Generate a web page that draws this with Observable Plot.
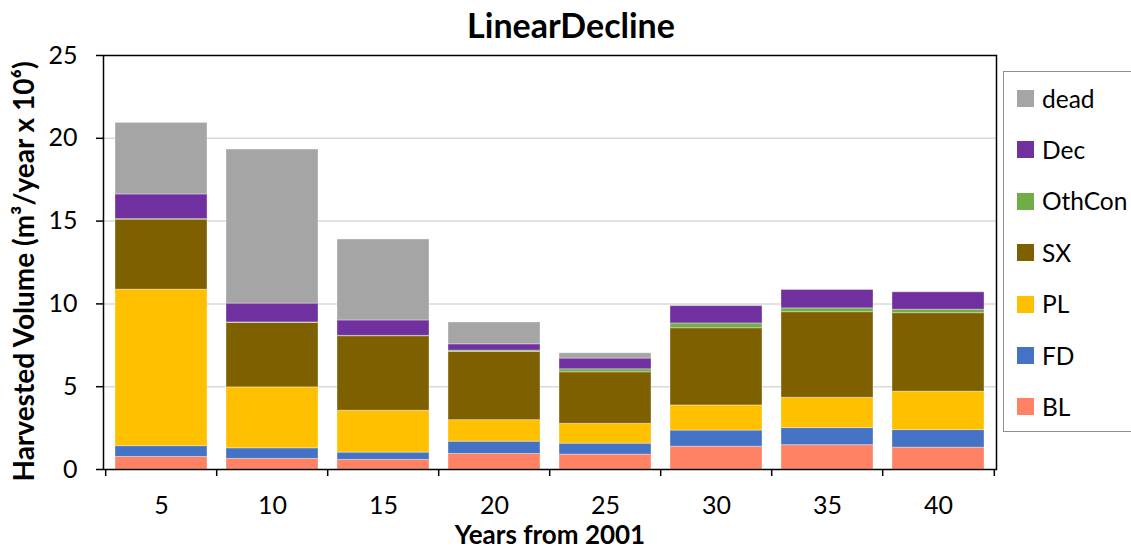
<!DOCTYPE html>
<html><head><meta charset="utf-8">
<script src="https://cdn.jsdelivr.net/npm/d3@7"></script>
<script src="https://cdn.jsdelivr.net/npm/@observablehq/plot@0.6"></script>
<style>
body{margin:0;overflow:hidden;background:#fff;font-family:Lato,sans-serif;}
#wrap{position:relative;width:1131px;height:550px;overflow:hidden;}
#legend{position:absolute;left:1003px;top:71px;width:170px;height:361px;border:1.5px solid #8f8f8f;box-sizing:border-box;background:#fff;}
.item{position:absolute;left:13px;height:30px;line-height:30px;display:flex;align-items:center;font-size:24.5px;color:#000;white-space:nowrap;}
.sw{width:17px;height:17px;margin-right:8px;flex:none;}
</style></head><body><div id="wrap"></div>
<script>
const years = [5, 10, 15, 20, 25, 30, 35, 40];
const BL     = [0.76, 0.64, 0.58, 0.94, 0.90, 1.38, 1.47, 1.32];
const FD     = [0.65, 0.64, 0.44, 0.74, 0.66, 0.97, 1.03, 1.06];
const PL     = [9.45, 3.68, 2.53, 1.30, 1.20, 1.52, 1.83, 2.32];
const SX     = [4.23, 3.89, 4.50, 4.12, 3.11, 4.66, 5.17, 4.74];
const OthCon = [0.03, 0.03, 0.02, 0.08, 0.18, 0.29, 0.23, 0.21];
const Dec    = [1.49, 1.14, 0.93, 0.38, 0.65, 1.05, 1.11, 1.05];
const dead   = [4.32, 9.30, 4.89, 1.32, 0.32, 0.05, 0.00, 0.00];
const seriesNames  = ["BL", "FD", "PL", "SX", "OthCon", "Dec", "dead"];
const seriesValues = [BL, FD, PL, SX, OthCon, Dec, dead];
const seriesColors = ["#FF8264", "#4472C4", "#FFC000", "#7F6000", "#70AD47", "#7030A0", "#A5A5A5"];
const yTicks = [0, 5, 10, 15, 20, 25];
const title = "LinearDecline";
const xLabel = "Years from 2001";
const yLabel = "Harvested Volume (m³/year x 10⁶)";

const table = seriesNames.flatMap((s, k) => years.map((yr, i) => ({year: yr, series: s, value: seriesValues[k][i]})));

const W = 1131, H = 550, mL = 103, mR = 135, mT = 55, mB = 81;
const step = (W - mL - mR) / years.length;

const chart = Plot.plot({
  width: W, height: H, marginLeft: mL, marginRight: mR, marginTop: mT, marginBottom: mB,
  style: {fontFamily: "Lato, sans-serif", background: "white", color: "black"},
  x: {type: "band", domain: years, paddingInner: 0.167, paddingOuter: 0.0835, label: null},
  y: {domain: [0, 25], label: null},
  color: {domain: seriesNames, range: seriesColors},
  marks: [
    Plot.gridY(yTicks.filter(d => d > 0 && d < 25), {stroke: "#d9d9d9", strokeOpacity: 1, strokeWidth: 1.5}),
    Plot.barY(table, {x: "year", y: "value", fill: "series", order: seriesNames, stroke: "white", strokeOpacity: 0.35, strokeWidth: 1}),
    Plot.frame({stroke: "black", strokeWidth: 1.5}),
    Plot.axisY({ticks: yTicks, tickSize: 7, tickPadding: 19, fontSize: 25, label: null, tickFormat: d => d, strokeWidth: 1.5}),
    Plot.axisX({tickSize: 0, tickPadding: 27, fontSize: 25, label: null}),
    Plot.ruleX(years, {x: d => d, dx: -step / 2, y1: 0, y2: 0, insetBottom: -7, stroke: "black", strokeWidth: 1.5}),
    Plot.ruleX(years.slice(-1), {x: d => d, dx: step / 2, y1: 0, y2: 0, insetBottom: -7, stroke: "black", strokeWidth: 1.5}),
    Plot.text([title], {text: d => d, frameAnchor: "top", textAnchor: "middle", lineAnchor: "middle", dx: 21, dy: -28, fontSize: 34, fontWeight: "bold"}),
    Plot.text([xLabel], {text: d => d, frameAnchor: "bottom", textAnchor: "middle", lineAnchor: "middle", dy: 66, fontSize: 26, fontWeight: "bold"}),
    Plot.text([yLabel], {text: d => d, frameAnchor: "left", textAnchor: "middle", lineAnchor: "middle", rotate: -90, dx: -78, dy: 9, fontSize: 28, fontWeight: "bold"})
  ]
});

const wrap = document.getElementById("wrap");
wrap.appendChild(chart);
const legend = document.createElement("div");
legend.id = "legend";
const legendOrder = seriesNames.map((s, k) => ({s, c: seriesColors[k]})).reverse();
legendOrder.forEach((d, i) => {
  const it = document.createElement("div");
  it.className = "item";
  it.style.top = (26.5 + i * 51.4 - 15) + "px";
  const sw = document.createElement("span");
  sw.className = "sw";
  sw.style.background = d.c;
  const tx = document.createElement("span");
  tx.textContent = d.s;
  it.appendChild(sw); it.appendChild(tx);
  legend.appendChild(it);
});
wrap.appendChild(legend);
</script></body></html>
